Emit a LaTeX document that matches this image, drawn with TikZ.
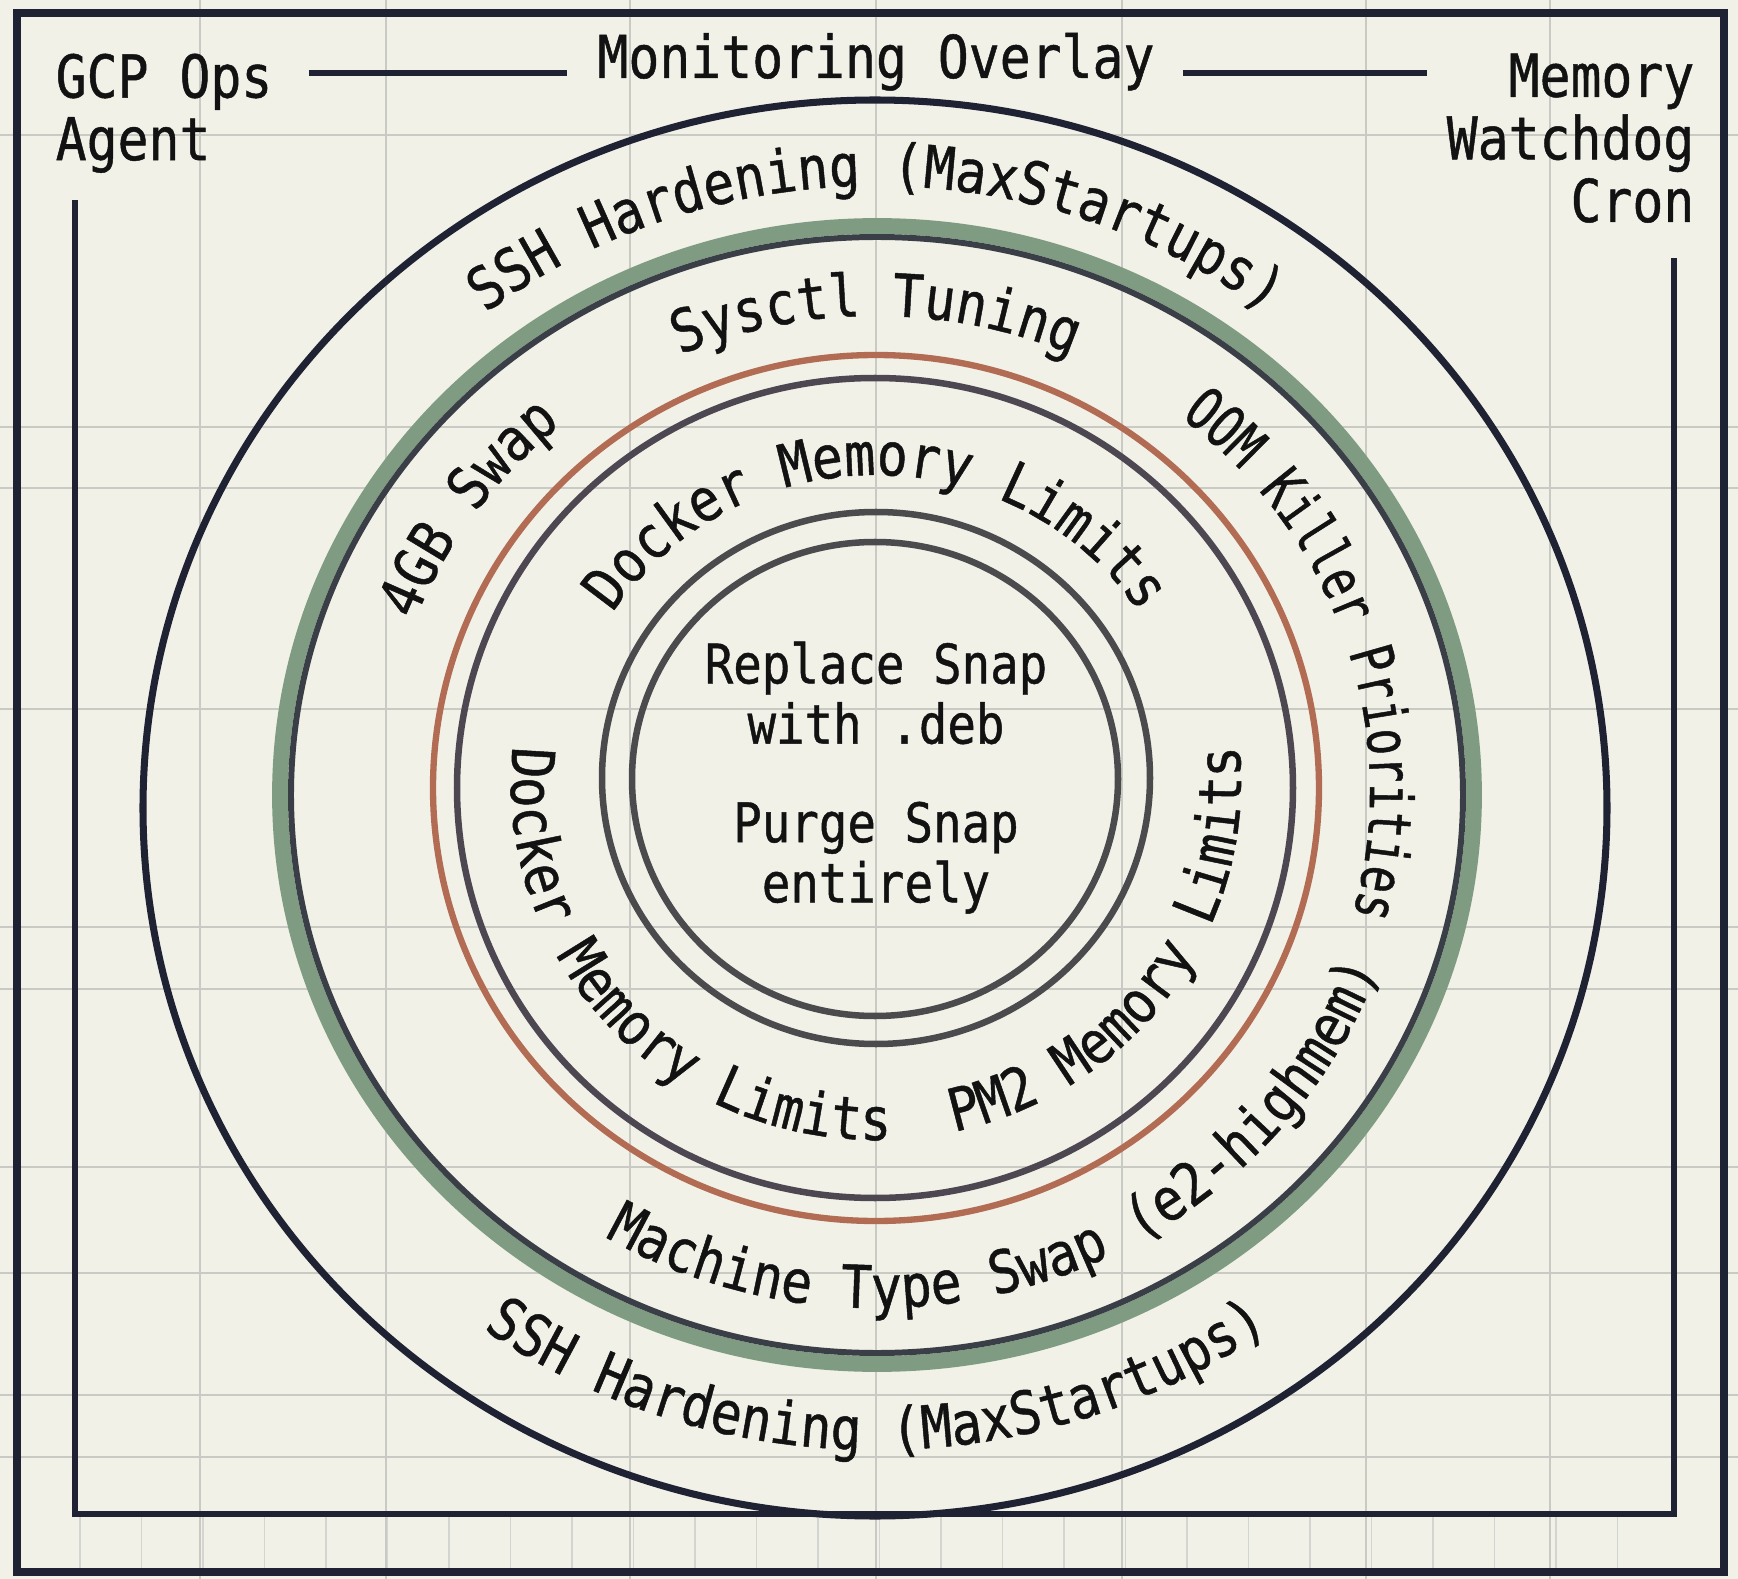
\documentclass[tikz,border=0pt]{standalone}
\usepackage{fontspec}
\usetikzlibrary{decorations.text}
\newfontfamily\monoFace[FakeStretch=0.87, FakeBold=0.8]{DejaVu Sans Mono}
\newfontfamily\monoNarrow[FakeStretch=0.75, FakeBold=0.8]{DejaVu Sans Mono}
\newcommand\arcFont{\monoFace\fontsize{16.8}{17.8}\selectfont\color{inkBlack}}
\newcommand\arcFontTight{\monoNarrow\fontsize{16.8}{17.8}\selectfont\color{inkBlack}}
\definecolor{paperCream}{HTML}{F1F1E8}
\definecolor{gridGray}{HTML}{C9CAC4}
\definecolor{opsNavy}{HTML}{1E2233}
\definecolor{ringSageC}{HTML}{7F9B81}
\definecolor{ringSlateC}{HTML}{3A3F47}
\definecolor{ringRustC}{HTML}{B26C53}
\definecolor{ringPlumC}{HTML}{4D4752}
\definecolor{ringAshC}{HTML}{4B4B4D}
\definecolor{inkBlack}{HTML}{121212}
\tikzset{
  gridLine/.style={draw=gridGray, line width=0.55pt},
  gridFine/.style={draw=gridGray!80, line width=0.45pt},
  frameOuter/.style={draw=opsNavy, line width=2pt},
  frameInner/.style={draw=opsNavy, line width=1.5pt},
  ruleLine/.style={draw=opsNavy, line width=1.7pt},
  ringNavy/.style={draw=opsNavy, line width=2pt},
  ringSage/.style={draw=ringSageC, line width=4.5pt},
  ringSlate/.style={draw=ringSlateC, line width=1.7pt},
  ringRust/.style={draw=ringRustC, line width=1.8pt},
  ringPlum/.style={draw=ringPlumC, line width=1.85pt},
  ringAsh/.style={draw=ringAshC, line width=1.85pt},
  lblText/.style={font=\monoFace\fontsize{16.8}{17.8}\selectfont, text=inkBlack, inner sep=0pt},
  lblInner/.style={font=\monoFace\fontsize{15.5}{17.1}\selectfont, text=inkBlack, inner sep=0pt, align=center},
  arcLbl/.style={decorate, decoration={text along path, text align=center, text={|\arcFont|#1}}},
  arcLblTight/.style={decorate, decoration={text along path, text align=center, text={|\arcFontTight|#1}}},
}

\begin{document}
\begin{tikzpicture}[x=0.01cm, y=0.01cm]
  \useasboundingbox (0,0) rectangle (1738,-1579);
  \fill[paperCream] (0,0) rectangle (1738,-1579);

  % background grid
  \foreach \gx in {200,386,630,876,1122,1366,1550}
    \draw[gridLine] (\gx,0) -- (\gx,-1579);
  \foreach \gy in {135,427,488,709,927,989,1167,1273,1395,1457}
    \draw[gridLine] (0,-\gy) -- (1738,-\gy);
  \foreach \k in {0,...,25}
    \draw[gridFine] ({80+61.5*\k},-1514) -- ({80+61.5*\k},-1572);

  % frames
  \draw[frameOuter] (17,-13) rectangle (1724,-1572);
  \draw[frameInner] (75,-200) -- (75,-1514) -- (1674,-1514) -- (1674,-258);

  % header
  \node[lblText, anchor=base] (overlay) at (876,-78) {Monitoring Overlay};
  \node[lblText, anchor=north west, align=left] (opsAgent) at (55,-53) {GCP Ops\\Agent};
  \node[lblText, anchor=north east, align=right] (watchdog) at (1695,-53) {Memory\\Watchdog\\Cron};
  \draw[ruleLine] ([shift={(-30,5)}]overlay.base west) -- ++(-258,0);
  \draw[ruleLine] ([shift={(28,5)}]overlay.base east) -- ++(244,0);

  % rings, outside in
  \draw[ringNavy] (875,-808) ellipse [x radius=732, y radius=708];
  \draw[ringSage] (877,-795) ellipse [x radius=597, y radius=569];
  \draw[ringSlate] (877,-795) ellipse [x radius=586, y radius=558];
  \draw[ringRust] (876,-788) ellipse [x radius=443, y radius=433];
  \draw[ringPlum] (875,-788) ellipse [x radius=418, y radius=410];
  \draw[ringAsh] (876,-778) ellipse [x radius=274, y radius=266];
  \draw[ringAsh] (875,-779) ellipse [x radius=243, y radius=237];

  % outer band
  \path[arcLbl={SSH Hardening (MaxStartups)}]
    (876,-801) ++(180:641 and 615) arc[start angle=180, end angle=0, x radius=641, y radius=615];
  \path[arcLbl={SSH Hardening (MaxStartups)}]
    (876,-801) ++(180:675 and 649) arc[start angle=180, end angle=360, x radius=675, y radius=649];

  % middle band
  \path[arcLbl={Sysctl Tuning}]
    (876,-791) ++(180:494 and 475) arc[start angle=180, end angle=0, x radius=494, y radius=475];
  \path[arcLbl={4GB Swap}]
    (876,-791) ++(205:494 and 475) arc[start angle=205, end angle=85, x radius=494, y radius=475];
  \path[arcLblTight={OOM Killer Priorities}]
    (876,-791) ++(88:494 and 475) arc[start angle=88, end angle=-52, x radius=494, y radius=475];
  \path[arcLbl={Machine Type Swap (e2-highmem)}]
    (876,-791) ++(-160:535 and 517) arc[start angle=-160, end angle=20, x radius=535, y radius=517];

  % inner band
  \path[arcLbl={Docker Memory Limits}]
    (876,-783) ++(180:316 and 308) arc[start angle=180, end angle=0, x radius=316, y radius=308];
  \path[arcLbl={Docker Memory Limits}]
    (876,-783) ++(143:365 and 357) arc[start angle=143, end angle=303, x radius=365, y radius=357];
  \path[arcLbl={PM2 Memory Limits}]
    (876,-783) ++(-115:365 and 357) arc[start angle=-115, end angle=44, x radius=365, y radius=357];

  % core
  \node[lblInner, anchor=north] (snapDeb) at (876,-641) {Replace Snap\\with .deb};
  \node[lblInner, anchor=north] (snapPurge) at (876,-801) {Purge Snap\\entirely};
\end{tikzpicture}
\end{document}
